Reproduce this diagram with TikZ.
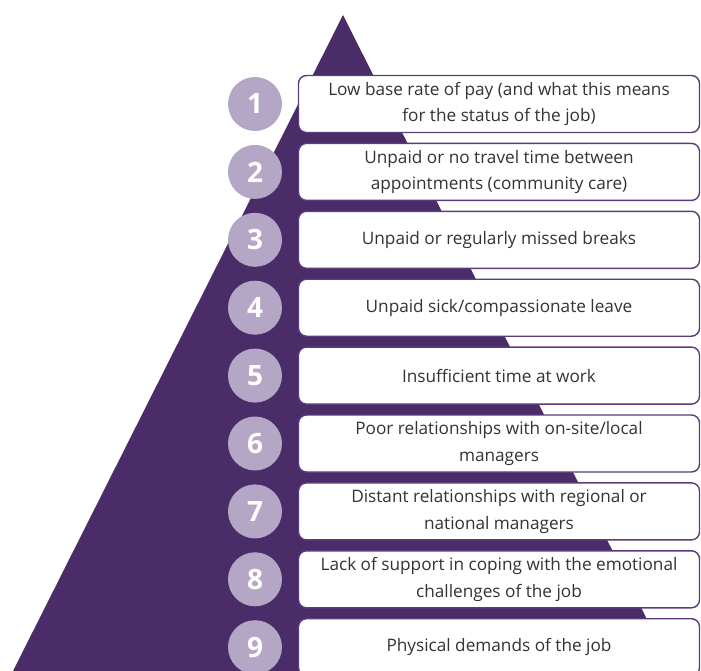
\documentclass[tikz,border=0pt]{standalone}
\usepackage{fontspec}
\setmainfont{Open Sans}
\definecolor{pyramid}{HTML}{4A2D68}
\definecolor{badgefill}{HTML}{B4A7C5}
\definecolor{boxedge}{HTML}{5A3C7C}
\definecolor{bodytext}{HTML}{333333}
\begin{document}
\begin{tikzpicture}[x=1pt,y=-1pt,
  item/.style={draw=boxedge, line width=1.4pt, fill=white, rounded corners=8pt,
    minimum width=401pt, minimum height=57pt, align=center, text=bodytext,
    font=\fontsize{17.2}{26.5}\selectfont, inner sep=0pt},
  badge/.style={circle, fill=badgefill, minimum size=54pt, inner sep=0pt,
    text=white, font=\fontsize{28}{28}\selectfont\bfseries}]
\clip (0,0) rectangle (701,671);
% the pyramid behind the list
\fill[pyramid] (343,15) -- (673,671) -- (13,671) -- cycle;
% ranked items
\foreach \k/\txt in {
  1/{Low base rate of pay (and what this means\\for the status of the job)},
  2/{Unpaid or no travel time between\\appointments (community care)},
  3/{Unpaid or regularly missed breaks},
  4/{Unpaid sick/compassionate leave},
  5/{Insufficient time at work},
  6/{Poor relationships with on-site/local\\managers},
  7/{Distant relationships with regional or\\national managers},
  8/{Lack of support in coping with the emotional\\challenges of the job},
  9/{Physical demands of the job}}{
  \pgfmathsetmacro{\yc}{104+(\k-1)*67.9}
  \node[item] (box\k) at (499,\yc) {\txt};
  \node[badge] (num\k) at (255,\yc) {\k};
}
\end{tikzpicture}
\end{document}
